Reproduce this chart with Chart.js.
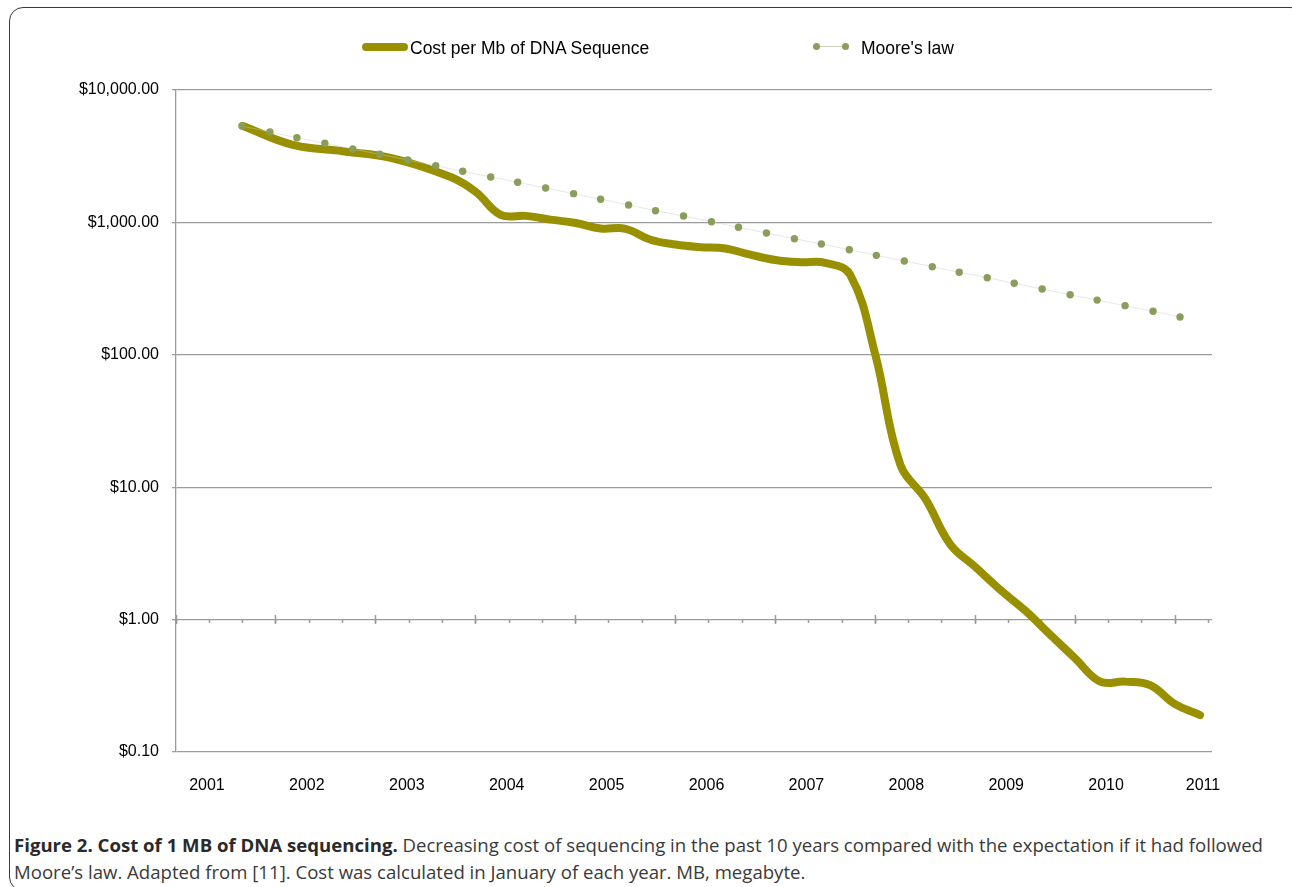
<!DOCTYPE html>
<html>
<head>
<meta charset="utf-8">
<script src="https://cdn.jsdelivr.net/npm/chart.js@4.4.1/dist/chart.umd.min.js"></script>
<style>
  html, body { margin: 0; padding: 0; background: #fff; overflow: hidden; }
  body { width: 1292px; height: 887px; position: relative; font-family: 'Liberation Sans', Arial, sans-serif; }
  .frame {
    position: absolute; left: 9px; top: 7px; width: 1296px; height: 884px;
    border: 1px solid #3a3a3a; border-radius: 14px; box-sizing: border-box;
  }
  .chart-wrap { position: absolute; left: 0; top: 0; width: 1292px; height: 810px; }
  .legend-item { position: absolute; top: 38px; height: 20px; font-size: 17.5px; line-height: 20px; color: #000; }
  .sw-cost { position: absolute; left: 362px; top: 43px; width: 46px; height: 8px; border-radius: 4px; background: #989000; }
  .sw-moore-line { position: absolute; left: 816px; top: 46px; width: 30px; height: 1px; background: #c9cdbd; }
  .sw-dot { position: absolute; top: 43px; width: 7px; height: 7px; border-radius: 50%; background: #8a9d5b; }
  .caption {
    position: absolute; left: 14px; top: 832px; color: #3a3a3a;
    font-family: 'Open Sans', 'Noto Sans', sans-serif; font-size: 17.5px; line-height: 27px;
    white-space: nowrap; transform-origin: 0 0;
  }
  .caption b { color: #2a2a2a; }
</style>
</head>
<body>
<div class="frame"></div>
<div class="chart-wrap"><canvas id="chart"></canvas></div>

<div class="sw-cost"></div>
<div class="legend-item" style="left:410px">Cost per Mb of DNA Sequence</div>
<div class="sw-moore-line"></div>
<div class="sw-dot" style="left:813px"></div>
<div class="sw-dot" style="left:842px"></div>
<div class="legend-item" style="left:861px">Moore's law</div>

<div class="caption" id="caption">
  <div id="cap1"><b>Figure 2. Cost of 1 MB of DNA sequencing.</b> Decreasing cost of sequencing in the past 10 years compared with the expectation if it had followed</div>
  <div id="cap2">Moore’s law. Adapted from [11]. Cost was calculated in January of each year. MB, megabyte.</div>
</div>

<script>
// cost per Mb (decimal year -> US$)
const costDates = [2001.67, 2002.17, 2002.67, 2003.17, 2003.75,
  2004.0, 2004.25, 2004.5, 2004.75, 2005.0, 2005.25, 2005.5, 2005.75,
  2006.0, 2006.25, 2006.5, 2006.75, 2007.0, 2007.25, 2007.5, 2007.75,
  2008.0, 2008.25, 2008.5, 2008.75, 2009.0, 2009.25, 2009.5, 2009.75,
  2010.0, 2010.25, 2010.5, 2010.75, 2011.0, 2011.25];
const costValues = [5350, 3850, 3450, 3050, 2200,
  1700, 1140, 1120, 1050, 990, 900, 895, 740,
  680, 650, 635, 570, 520, 500, 495, 400,
  100, 14.8, 8.2, 3.7, 2.5, 1.68, 1.17, 0.77,
  0.51, 0.34, 0.34, 0.32, 0.23, 0.19];

// Moore's law expectation dots
const mooreDates = [2001.66, 2001.94, 2002.21, 2002.49, 2002.77, 2003.04, 2003.32,
  2003.60, 2003.87, 2004.15, 2004.42, 2004.70, 2004.98, 2005.25, 2005.53, 2005.80,
  2006.08, 2006.36, 2006.63, 2006.91, 2007.19, 2007.46, 2007.74, 2008.01, 2008.29,
  2008.57, 2008.84, 2009.12, 2009.39, 2009.67, 2009.95, 2010.22, 2010.50, 2010.78, 2011.05];
const mooreValues = [5348, 4817, 4362, 3958, 3584, 3268, 2960, 2680, 2432, 2203,
  2009, 1819, 1648, 1495, 1353, 1226, 1118, 1012, 918, 831, 753, 687, 622, 564,
  511, 463, 420, 382, 347, 314, 284, 259, 235, 213, 193];

const yearLabels = ['2001', '2002', '2003', '2004', '2005', '2006', '2007', '2008', '2009', '2010', '2011'];
const yTicks = [0.1, 1, 10, 100, 1000, 10000];

const X_MIN = 2001.0;
const X_MAX = 2011.37;
const GRID = '#9b9b9b';
const COST_COLOR = '#989000';
const MOORE_COLOR = '#8a9d5b';
const TICK_FONT = { family: "'Liberation Sans', Arial, sans-serif", size: 16 };

const money = (v) => '$' + v.toLocaleString('en-US', { minimumFractionDigits: 2, maximumFractionDigits: 2 });

// helper axes sitting on the $1.00 line, they only carry tick marks
function markAxis(values, len) {
  return {
    type: 'linear',
    axis: 'x',
    position: { y: 1 },
    min: X_MIN,
    max: X_MAX,
    afterBuildTicks: (s) => { s.ticks = values.map((v) => ({ value: v })); },
    ticks: { display: false },
    border: { display: false },
    grid: { drawOnChartArea: false, tickLength: len, tickColor: GRID, tickWidth: 1.5 },
  };
}

const minorTicks = [];
const majorTicks = [];
yearLabels.forEach((y) => {
  const n = Number(y);
  majorTicks.push(n);
  [n, n + 1 / 3, n + 2 / 3].forEach((t) => { if (t <= X_MAX) minorTicks.push(t); });
});

new Chart(document.getElementById('chart'), {
  type: 'line',
  data: {
    datasets: [
      {
        label: 'Cost per Mb of DNA Sequence',
        data: costDates.map((d, i) => ({ x: d, y: costValues[i] })),
        borderColor: COST_COLOR,
        borderWidth: 8,
        borderCapStyle: 'round',
        borderJoinStyle: 'round',
        pointRadius: 0,
        tension: 0.4,
        order: 2,
      },
      {
        label: "Moore's law",
        data: mooreDates.map((d, i) => ({ x: d, y: mooreValues[i] })),
        borderColor: 'rgba(200, 204, 188, 0.45)',
        borderWidth: 1,
        pointRadius: 3.7,
        pointBackgroundColor: MOORE_COLOR,
        pointBorderWidth: 0,
        tension: 0,
        order: 1,
      },
    ],
  },
  options: {
    responsive: true,
    maintainAspectRatio: false,
    animation: false,
    layout: { padding: { top: 90, right: 80, left: 0, bottom: 0 } },
    plugins: { legend: { display: false }, tooltip: { enabled: false } },
    scales: {
      x: {
        type: 'linear',
        min: X_MIN,
        max: X_MAX,
        afterBuildTicks: (s) => {
          s.ticks = yearLabels.map((y, i) => ({ value: Number(y) + (i === yearLabels.length - 1 ? 0.28 : 0.31) }));
        },
        afterFit: (s) => { s.height = 58; },
        grid: { display: false, drawTicks: false },
        border: { display: false },
        ticks: {
          color: '#000',
          font: TICK_FONT,
          padding: 24,
          maxRotation: 0,
          autoSkip: false,
          callback: (v, i) => yearLabels[i],
        },
      },
      xMinor: markAxis(minorTicks, 3),
      xMajorUp: markAxis(majorTicks, -5),
      xMajorDown: markAxis(majorTicks, 4),
      y: {
        type: 'logarithmic',
        min: 0.1,
        max: 10000,
        afterBuildTicks: (s) => { s.ticks = yTicks.map((v) => ({ value: v })); },
        afterFit: (s) => { s.width = 176; },
        grid: { color: GRID, lineWidth: 1.3, tickLength: 4, tickColor: GRID },
        border: { color: GRID, width: 1.3 },
        ticks: {
          color: '#000',
          font: TICK_FONT,
          padding: 13,
          callback: (v) => money(v),
        },
      },
    },
  },
});

// squeeze the caption to the width of the original condensed face
const cap = document.getElementById('caption');
const w = document.getElementById('cap1').getBoundingClientRect().width;
cap.style.transform = `scaleX(${1249 / w})`;
</script>
</body>
</html>
